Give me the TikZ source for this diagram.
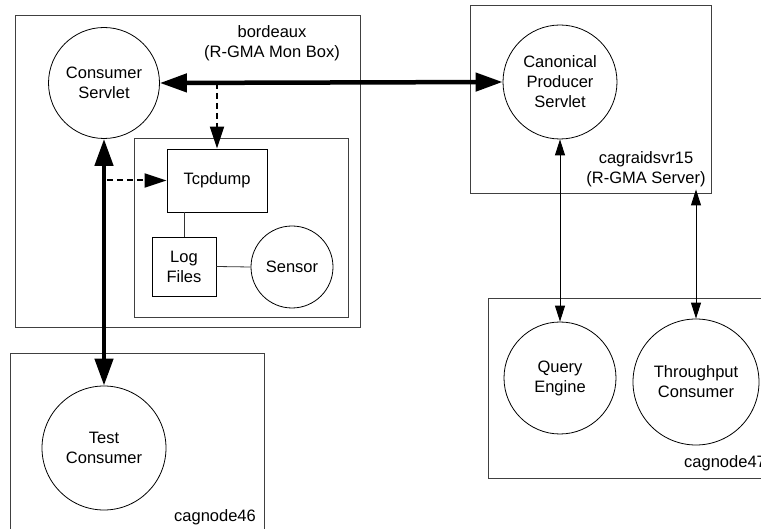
\documentclass[tikz,border=0pt]{standalone}
\usepackage{fontspec}
\setmainfont{Liberation Sans}
\usetikzlibrary{arrows.meta}
\newcommand{\lblfont}{\fontsize{16.5}{20}\selectfont}
\begin{document}
\begin{tikzpicture}[x=1pt,y=-1pt,
  host/.style={draw=black!75, line width=0.9pt, rectangle, inner sep=0pt},
  proc/.style={circle, draw, line width=0.8pt, inner sep=0pt, align=center, font=\lblfont},
  unit/.style={rectangle, draw, line width=0.8pt, inner sep=0pt, align=center, font=\lblfont},
  lbl/.style={align=center, font=\lblfont, inner sep=0pt},
  biglink/.style={line width=4.5pt, {Triangle[length=27pt,width=18pt]}-{Triangle[length=27pt,width=18pt]}},
  thinlink/.style={line width=0.9pt, {Triangle[length=16pt,width=10pt]}-{Triangle[length=16pt,width=10pt]}},
  taplink/.style={line width=2pt, dash pattern=on 6pt off 4pt, -{Triangle[length=22pt,width=14pt]}},
  plain/.style={line width=0.8pt, draw=black!80}]
\useasboundingbox (0,0) rectangle (761,529);
\clip (0,0) rectangle (761,529);

% host boxes
\node[host, minimum width=345pt, minimum height=312pt] (bdx) at (187.5,171) {};
\node[host, minimum width=214pt, minimum height=179pt] (inner) at (241,227.5) {};
\node[host, minimum width=241pt, minimum height=188pt] (srv) at (590.5,99) {};
\node[host, minimum width=312pt, minimum height=180pt] (n47) at (644,388) {};
\node[host, minimum width=254pt, minimum height=207pt] (n46) at (137,456.5) {};

% host labels
\node[lbl] (bdxlbl) at (272,43) {bordeaux\\(R-GMA Mon Box)};
\node[lbl] (srvlbl) at (646,169) {cagraidsvr15\\(R-GMA Server)};
\node[lbl] (n46lbl) at (215,517) {cagnode46};
\node[lbl, anchor=west] (n47lbl) at (684,463) {cagnode47};

% processes
\node[proc, minimum size=111pt] (cs) at (104,83) {Consumer\\Servlet};
\node[proc, minimum size=114pt] (cp) at (560,82) {Canonical\\Producer\\Servlet};
\node[proc, minimum size=112pt] (qe) at (560,378) {Query\\Engine};
\node[proc, minimum size=126pt] (tp) at (696,382) {Throughput\\Consumer};
\node[proc, minimum size=124pt] (tc) at (104,448) {Test\\Consumer};
\node[proc, minimum size=82pt] (sn) at (292,267) {Sensor};

% monitoring units
\node[unit, minimum width=100pt, minimum height=63pt] (tcp) at (217,180.5) {Tcpdump};
\node[unit, minimum width=64pt, minimum height=59pt] (lf) at (184,266.5) {Log\\Files};

% connectors
\draw[biglink] (cs.east) -- (cp.west);
\draw[biglink] (cs.south) -- (tc.north);
\draw[thinlink] (cp.south) -- (qe.north);
\coordinate (srvfoot) at ([yshift=4pt]srv.south -| tp.north);
\draw[thinlink] (srvfoot) -- (tp.north);

\coordinate (tap1) at (tcp.north |- cs.east);
\coordinate (tap2) at ([xshift=3pt]cs.south |- tcp.west);
\draw[taplink] (tap1) -- (tcp.north);
\draw[taplink] (tap2) -- (tcp.west);

\draw[plain] (lf.north) -- (lf.north |- tcp.south);
\draw[plain] (lf.east) -- (sn.west);
\end{tikzpicture}
\end{document}
